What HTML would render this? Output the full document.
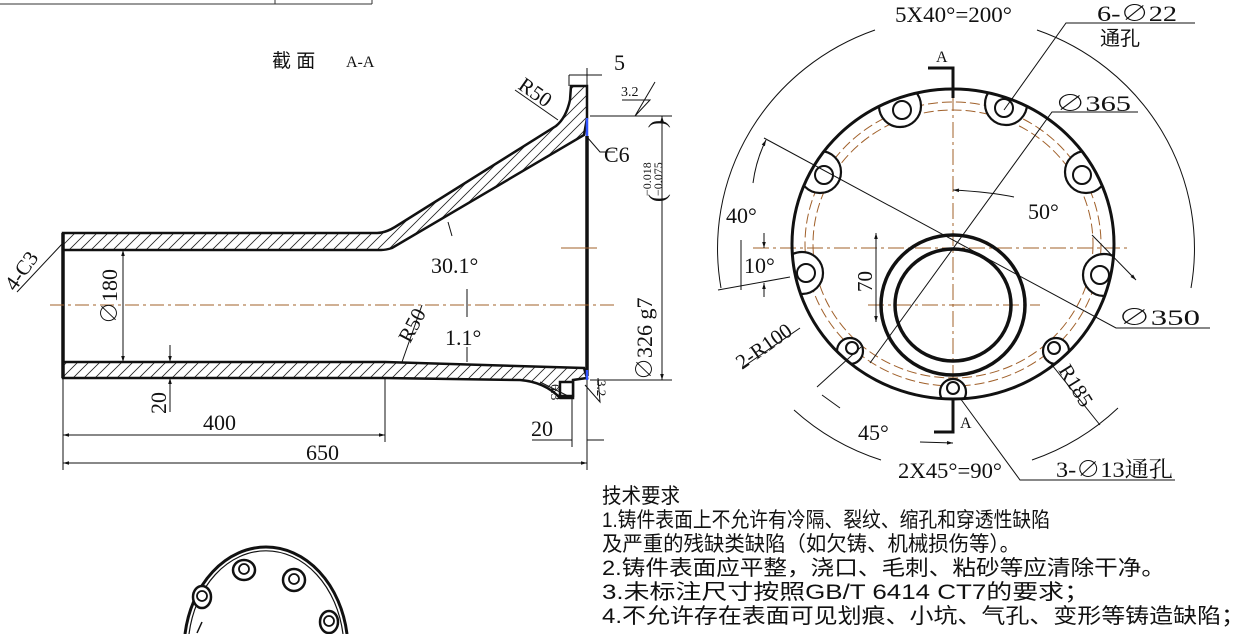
<!DOCTYPE html>
<html><head><meta charset="utf-8"><style>
html,body{margin:0;padding:0;background:#fff;width:1250px;height:634px;overflow:hidden;position:relative}
svg{display:block;overflow:hidden;position:absolute;left:0;top:0}
text{font-family:"Liberation Serif","Noto Serif CJK SC",serif;fill:#111}
.cj{font-family:"Liberation Sans","Noto Sans CJK SC",sans-serif}
</style></head><body>
<svg width="1250" height="634" viewBox="0 0 1250 634" xmlns="http://www.w3.org/2000/svg">
<defs>
<pattern id="h" patternUnits="userSpaceOnUse" width="11" height="11">
<path d="M0,11 L11,0 M-2,2 L2,-2 M9,13 L13,9" stroke="#222" stroke-width="0.8"/>
</pattern>
<clipPath id="oc"><ellipse cx="953" cy="244" rx="161" ry="155"/></clipPath>
<clipPath id="pg"><rect x="0" y="0" width="1250" height="634"/></clipPath>
<marker id="ar" viewBox="0 0 10 10" refX="10" refY="5" markerWidth="8" markerHeight="6" orient="auto-start-reverse"><path d="M0,2 L10,5 L0,8z" fill="#111"/></marker>
</defs>
<g clip-path="url(#pg)">
<g stroke="#333" stroke-width="1" fill="none">
<line x1="0" y1="4" x2="372" y2="4"/><line x1="275" y1="0" x2="275" y2="4"/><line x1="372" y1="0" x2="372" y2="4"/>
</g>
<text x="272" y="67" font-size="19" class="cj">截 面</text>
<text x="346" y="67" font-size="16" font-family="Liberation Mono">A-A</text>

<path d="M63,233 L377,233 Q385,233 395,227 L556,126 Q566,118 570,100 L571,86 L587,86 L587,118 L584,135 L392,248 Q386,250 381,250 L63,250Z" fill="url(#h)" stroke="#111" stroke-width="2.5"/>
<path d="M63,362 L385,362 L584,368 L587,378 L573,380 L573,398 L560,398 Q545,382 520,380 L385,378 L63,378Z" fill="url(#h)" stroke="#111" stroke-width="2.5"/>
<rect x="560" y="382" width="13" height="14" fill="#fff" stroke="#111" stroke-width="2.5"/>
<line x1="63" y1="233" x2="63" y2="378" stroke="#111" stroke-width="3.5"/>
<line x1="587" y1="136" x2="587" y2="376" stroke="#111" stroke-width="3.5"/>
<line x1="587" y1="118" x2="587" y2="136" stroke="#3355ff" stroke-width="2.5"/>
<line x1="587" y1="370" x2="587" y2="380" stroke="#3355ff" stroke-width="2.5"/>
<line x1="50" y1="305" x2="615" y2="305" stroke="#a0602a" stroke-width="1" stroke-dasharray="14,4,3,4"/>
<line x1="561" y1="248" x2="597" y2="248" stroke="#a0602a" stroke-width="1"/>

<g stroke="#111" stroke-width="1" fill="none">
<line x1="123" y1="250" x2="123" y2="362" marker-start="url(#ar)" marker-end="url(#ar)"/>
<line x1="170" y1="345" x2="170" y2="362" marker-end="url(#ar)"/>
<line x1="170" y1="412" x2="170" y2="378" marker-end="url(#ar)"/>
<line x1="63" y1="378" x2="63" y2="470"/><line x1="385" y1="378" x2="385" y2="442"/>
<line x1="587" y1="380" x2="587" y2="470"/><line x1="572" y1="398" x2="572" y2="447"/>
<line x1="63" y1="435" x2="385" y2="435" marker-start="url(#ar)" marker-end="url(#ar)"/>
<line x1="63" y1="463" x2="587" y2="463" marker-start="url(#ar)" marker-end="url(#ar)"/>
<line x1="532" y1="440" x2="572" y2="440"/><line x1="587" y1="440" x2="604" y2="440"/>
<line x1="590" y1="116" x2="672" y2="116"/><line x1="590" y1="380" x2="672" y2="380"/>
<line x1="662" y1="116" x2="662" y2="380" marker-start="url(#ar)" marker-end="url(#ar)"/>
<line x1="569" y1="75" x2="569" y2="86"/><line x1="587" y1="68" x2="587" y2="86"/>
<line x1="569" y1="75" x2="602" y2="75"/>
<polyline points="587,137 600,152 615,152"/>
<line x1="515" y1="90" x2="558" y2="120"/>
<polyline points="622,100 650,100 635,116 655,82"/>
<line x1="448" y1="222" x2="452" y2="236"/>
<line x1="467" y1="289" x2="467" y2="317"/><line x1="467" y1="347" x2="467" y2="362"/>
<line x1="422" y1="305" x2="402" y2="362"/>
<line x1="17" y1="292" x2="63" y2="243"/>
<polyline points="585,385 600,402 598,378 M600,402 L620,420"/>
<line x1="540" y1="382" x2="572" y2="398"/>
</g>
<text x="0" y="0" font-size="22" transform="translate(117,324) rotate(-90)">∅180</text>
<text x="0" y="0" font-size="22" transform="translate(166,414) rotate(-90)">20</text>
<text x="203" y="430" font-size="22">400</text>
<text x="306" y="460" font-size="22">650</text>
<text x="531" y="436" font-size="22">20</text>
<text x="614" y="70" font-size="22">5</text>
<text x="621" y="96" font-size="14" font-family="Liberation Mono">3.2</text>
<text x="604" y="162" font-size="22">C6</text>
<text x="0" y="0" font-size="22" transform="translate(652,380) rotate(-90)">∅326 g7</text>
<text x="0" y="0" font-size="12" transform="translate(651,196) rotate(-90)">−0.018</text>
<text x="0" y="0" font-size="12" transform="translate(662,196) rotate(-90)">−0.075</text>
<text x="0" y="0" font-size="24" transform="translate(665,202) rotate(-90)">(</text>
<text x="0" y="0" font-size="24" transform="translate(665,128) rotate(-90)">)</text>
<text x="0" y="0" font-size="21" transform="translate(517,88) rotate(35)">R50</text>
<text x="431" y="273" font-size="22">30.1°</text>
<text x="445" y="345" font-size="22">1.1°</text>
<text x="0" y="0" font-size="21" transform="translate(410,344) rotate(-62)">R50</text>
<text x="0" y="0" font-size="21" transform="translate(15,292) rotate(-55)">4-C3</text>
<text x="0" y="0" font-size="13" font-family="Liberation Mono" transform="translate(597,380) rotate(90)">3.2</text>
<text x="0" y="0" font-size="13" font-family="Liberation Mono" transform="translate(551,384) rotate(90)">6.3</text>

<g fill="none" stroke="#a0602a" stroke-width="1">
<ellipse cx="953" cy="244" rx="148" ry="142" stroke-dasharray="10,4"/>
<ellipse cx="953" cy="244" rx="140" ry="134" stroke-dasharray="10,4"/>
<line x1="953" y1="68" x2="953" y2="432" stroke-dasharray="16,4,3,4"/>
<line x1="753" y1="248" x2="1130" y2="248" stroke-dasharray="16,4,3,4"/>
<line x1="868" y1="305" x2="1040" y2="305" stroke-dasharray="16,4,3,4"/>
</g>
<g clip-path="url(#oc)" fill="#fff" stroke="#111" stroke-width="2.2">
<circle cx="900" cy="106" r="21"/><circle cx="1006" cy="104" r="21"/>
<circle cx="820" cy="172" r="21"/><circle cx="1086" cy="172" r="21"/>
<circle cx="802" cy="273" r="21"/><circle cx="1104" cy="275" r="21"/>
<circle cx="850" cy="351" r="13"/><circle cx="1056" cy="351" r="13"/><circle cx="953" cy="392" r="13"/>
</g>
<ellipse cx="953" cy="244" rx="161" ry="155" fill="none" stroke="#111" stroke-width="3"/>
<g fill="none" stroke="#111" stroke-width="2">
<circle cx="902" cy="110" r="9"/><circle cx="1004" cy="108" r="9"/>
<circle cx="824" cy="175" r="9"/><circle cx="1082" cy="175" r="9"/>
<circle cx="806" cy="273" r="9"/><circle cx="1100" cy="275" r="9"/>
<circle cx="852" cy="348" r="6"/><circle cx="1054" cy="348" r="6"/><circle cx="953" cy="388" r="6"/>
</g>
<ellipse cx="953" cy="305" rx="72" ry="70" fill="none" stroke="#111" stroke-width="3.5"/>
<ellipse cx="953" cy="305" rx="58" ry="56" fill="none" stroke="#111" stroke-width="3.5"/>

<g stroke="#111" stroke-width="1" fill="none">
<path d="M875,30 A237,232 0 0 0 721,288"/>
<path d="M1037,30 A237,232 0 0 1 1191,288"/>
<path d="M794,410 A237,232 0 0 0 881,460"/>
<path d="M1032,460 A237,232 0 0 0 1118,408"/>
<polyline points="1004,110 1066,23 1195,23"/>
<polyline points="870,363 1052,112 1138,112"/>
<polyline points="764,138 1116,328 1210,328"/>
<polyline points="960,398 1020,480 1175,480"/>
<line x1="1048" y1="360" x2="1100" y2="425"/>
<line x1="743" y1="367" x2="800" y2="328"/>
<path d="M953,190 Q990,192 1014,197" marker-start="url(#ar)"/>
<path d="M753,183 Q756,160 766,140" marker-end="url(#ar)"/>
<line x1="718" y1="290" x2="790" y2="277"/>
<line x1="741" y1="240" x2="741" y2="290"/>
<line x1="764" y1="233" x2="764" y2="248" marker-end="url(#ar)"/>
<line x1="764" y1="297" x2="764" y2="283" marker-end="url(#ar)"/>
<line x1="876" y1="233" x2="876" y2="322" marker-start="url(#ar)" marker-end="url(#ar)"/>
<line x1="817" y1="387" x2="861" y2="347"/>
<line x1="822" y1="395" x2="840" y2="408"/>
<line x1="920" y1="442" x2="953" y2="443" marker-end="url(#ar)"/>
<line x1="1092" y1="235" x2="1136" y2="280" marker-end="url(#ar)"/>
</g>
<polyline points="928,68 953,68 953,98" fill="none" stroke="#111" stroke-width="3"/>
<polyline points="934,432 953,432 953,398" fill="none" stroke="#111" stroke-width="3"/>
<text x="936" y="62" font-size="16" font-family="Liberation Mono">A</text>
<text x="960" y="428" font-size="16" font-family="Liberation Mono">A</text>
<text x="895" y="22" font-size="22" textLength="117" lengthAdjust="spacingAndGlyphs">5X40°=200°</text>
<text x="1097" y="21" font-size="22" textLength="80" lengthAdjust="spacingAndGlyphs">6-∅22</text>
<text x="1100" y="45" font-size="20" class="cj">通孔</text>
<text x="1055" y="111" font-size="22" textLength="76" lengthAdjust="spacingAndGlyphs">∅365</text>
<text x="1028" y="219" font-size="22">50°</text>
<text x="726" y="223" font-size="22">40°</text>
<text x="744" y="273" font-size="22">10°</text>
<text x="1118" y="325" font-size="22" textLength="82" lengthAdjust="spacingAndGlyphs">∅350</text>
<text x="0" y="0" font-size="21" transform="translate(872,292) rotate(-90)">70</text>
<text x="0" y="0" font-size="21" transform="translate(742,370) rotate(-35)">2-R100</text>
<text x="0" y="0" font-size="21" transform="translate(1058,370) rotate(58)">R185</text>
<text x="858" y="440" font-size="22">45°</text>
<text x="898" y="478" font-size="22" textLength="104" lengthAdjust="spacingAndGlyphs">2X45°=90°</text>
<text x="1056" y="477" font-size="22" textLength="117" lengthAdjust="spacingAndGlyphs">3-∅13通孔</text>

<g font-size="21">
<text class="cj" x="602" y="503" textLength="78" lengthAdjust="spacingAndGlyphs">技术要求</text>
<text class="cj" x="602" y="527" textLength="448" lengthAdjust="spacingAndGlyphs">1.铸件表面上不允许有冷隔、裂纹、缩孔和穿透性缺陷</text>
<text class="cj" x="602" y="551" textLength="418" lengthAdjust="spacingAndGlyphs">及严重的残缺类缺陷（如欠铸、机械损伤等）。</text>
<text class="cj" x="602" y="575" textLength="563" lengthAdjust="spacingAndGlyphs">2.铸件表面应平整，浇口、毛刺、粘砂等应清除干净。</text>
<text class="cj" x="602" y="599" textLength="488" lengthAdjust="spacingAndGlyphs">3.未标注尺寸按照GB/T 6414 CT7的要求；</text>
<text class="cj" x="602" y="623" textLength="643" lengthAdjust="spacingAndGlyphs">4.不允许存在表面可见划痕、小坑、气孔、变形等铸造缺陷；</text>
</g>

<g fill="none" stroke="#111">
<path d="M185,634 A82,103 0 0 1 347,634" stroke-width="3"/>
<path d="M189,634 A78,99 0 0 1 343,634" stroke-width="1.2"/>
<g stroke-width="2.5" fill="#fff">
<ellipse cx="244" cy="570" rx="11" ry="10"/><ellipse cx="294" cy="580" rx="11" ry="11"/>
<ellipse cx="202" cy="597" rx="9" ry="11"/><ellipse cx="329" cy="622" rx="9" ry="11"/>
</g>
<g stroke-width="1.8">
<circle cx="244" cy="569" r="5"/><circle cx="294" cy="579" r="5"/>
<circle cx="202" cy="596" r="5"/><circle cx="329" cy="621" r="5"/>
</g>
<line x1="202" y1="622" x2="197" y2="633" stroke-width="1.5"/>
</g>
</g>
</svg>
</body></html>
